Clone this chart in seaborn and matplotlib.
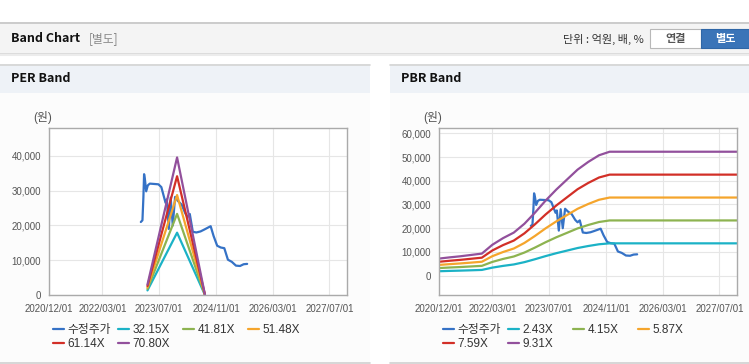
import pandas as pd
import matplotlib.pyplot as plt
import seaborn as sns
from matplotlib.patches import Rectangle
from matplotlib.ticker import StrMethodFormatter

# 수정주가
price_dates = ["2023-01-25", "2023-02-08", "2023-02-16", "2023-02-22", "2023-03-02",
               "2023-03-12", "2023-03-26", "2023-04-12", "2023-05-20", "2023-06-25",
               "2023-07-20", "2023-08-05", "2023-08-25", "2023-09-05", "2023-09-22",
               "2023-10-08", "2023-10-26", "2023-11-15", "2023-12-10", "2024-01-10",
               "2024-02-10", "2024-03-01", "2024-03-20", "2024-04-15", "2024-05-15",
               "2024-06-20", "2024-07-20", "2024-09-15", "2024-10-10", "2024-11-10",
               "2024-12-10", "2025-01-10", "2025-02-10", "2025-03-15", "2025-04-20",
               "2025-05-25", "2025-06-25", "2025-07-25"]
price_values = [21000, 21500, 28000, 34700, 33000,
                29800, 31500, 32000, 31900, 31800,
                31000, 29000, 26500, 27500, 19000,
                28000, 20000, 28200, 27000, 26000,
                23500, 22500, 23300, 18200, 18000,
                18300, 18800, 19800, 17000, 14200,
                13700, 13500, 10200, 9600, 8500,
                8400, 8900, 9000]

# PER 밴드
per_dates = ["2023-03-23", "2023-12-02", "2024-07-28"]
per_labels = ["32.15X", "41.81X", "51.48X", "61.14X", "70.80X"]
per_3215 = [1400, 17940, 100]
per_4181 = [1820, 23330, 130]
per_5148 = [2240, 28730, 150]
per_6114 = [2660, 34120, 180]
per_7080 = [3080, 39510, 210]

# PBR 밴드
pbr_dates = ["2020-12-01", "2021-03-01", "2021-06-01", "2021-09-01", "2021-12-01",
             "2022-03-01", "2022-06-01", "2022-09-01", "2022-12-01", "2023-03-01",
             "2023-06-01", "2023-09-01", "2023-12-01", "2024-03-01", "2024-06-01",
             "2024-09-01", "2024-12-01", "2027-12-01"]
pbr_labels = ["2.43X", "4.15X", "5.87X", "7.59X", "9.31X"]
pbr_243 = [1880, 2020, 2140, 2280, 2430, 3400, 4130, 4740, 5710, 6930,
           8260, 9480, 10570, 11660, 12510, 13240, 13630, 13630]
pbr_415 = [3220, 3450, 3650, 3900, 4150, 5810, 7060, 8090, 9750, 11830,
           14110, 16190, 18050, 19920, 21370, 22620, 23280, 23280]
pbr_587 = [4550, 4870, 5170, 5520, 5870, 8220, 9980, 11450, 13800, 16730,
           19960, 22890, 25540, 28180, 30230, 31990, 32930, 32930]
pbr_759 = [5880, 6300, 6680, 7140, 7590, 10630, 12900, 14800, 17840, 21630,
           25810, 29600, 33020, 36430, 39090, 41370, 42580, 42580]
pbr_931 = [7220, 7730, 8190, 8750, 9310, 13030, 15830, 18160, 21880, 26530,
           31650, 36310, 40500, 44690, 47950, 50740, 52230, 52230]

x_ticks = ["2020-12-01", "2022-03-01", "2023-07-01", "2024-11-01", "2026-03-01", "2027-07-01"]
x_tick_labels = ["2020/12/01", "2022/03/01", "2023/07/01", "2024/11/01", "2026/03/01", "2027/07/01"]

colors = ["#3572c6", "#1bb2c6", "#8db350", "#f5a52c", "#d22f27", "#92509c"]

W, H = 749, 364

sns.set_style("whitegrid")
plt.rcParams['font.family'] = ['Liberation Sans', 'Noto Sans CJK KR', 'DejaVu Sans']

fig = plt.figure(figsize=(W / 100, H / 100), dpi=100)
fig.patch.set_facecolor("white")


def rect(x0, y0, x1, y1, fc, ec="none", lw=0, z=0):
    fig.add_artist(Rectangle((x0 / W, 1 - y1 / H), (x1 - x0) / W, (y1 - y0) / H,
                             transform=fig.transFigure, facecolor=fc, edgecolor=ec,
                             linewidth=lw, zorder=z))


def hline(x0, x1, y, c, lw=1):
    fig.add_artist(plt.Line2D([x0 / W, x1 / W], [1 - y / H, 1 - y / H],
                              transform=fig.transFigure, color=c, lw=lw))


# 상단 헤더
rect(0, 22, 749, 53, "#f4f4f4")
hline(0, 749, 22.5, "#c4c4c4", 1.2)
hline(0, 749, 53.5, "#d6d6d6", 1.2)
hline(0, 749, 55, "#ececec", 1.5)
fig.text(11 / W, 1 - 39 / H, "Band Chart", fontsize=9, fontweight="bold",
         family=['Noto Sans CJK KR'], va="center", color="#111111")
fig.text(89 / W, 1 - 39 / H, "[별도]", fontsize=8.5, family=['Noto Sans CJK KR'],
         va="center", color="#888888")
fig.text(644 / W, 1 - 39 / H, "단위 : 억원, 배, %", fontsize=8, family=['Noto Sans CJK KR'],
         va="center", ha="right", color="#333333")
rect(650, 29, 701, 48, "white", "#b8b8b8", 0.8, 1)
rect(701, 29, 749, 48, "#3a74b8", "#2f66a6", 0.8, 1)
fig.text(675.5 / W, 1 - 38.5 / H, "연결", fontsize=8, fontweight="bold",
         family=['Noto Sans CJK KR'], va="center", ha="center", color="#555555", zorder=2)
fig.text(725 / W, 1 - 38.5 / H, "별도", fontsize=8, fontweight="bold",
         family=['Noto Sans CJK KR'], va="center", ha="center", color="white", zorder=2)

# 패널
for px0, px1, title in [(0, 370, "PER Band"), (390, 749, "PBR Band")]:
    rect(px0, 64, px1, 93, "#eef2f7")
    rect(px0, 93, px1, 363, "#fcfcfc")
    hline(px0, px1, 64.5, "#d4d4d4", 1.2)
    hline(px0, px1, 363, "#d0d0d0", 1.2)
    fig.text((px0 + 11) / W, 1 - 79 / H, title, fontsize=9, fontweight="bold",
             family=['Noto Sans CJK KR'], va="center", color="#111111")


def make_axes(x0, x1, y0, y1):
    ax = fig.add_axes([x0 / W, 1 - y1 / H, (x1 - x0) / W, (y1 - y0) / H])
    ax.set_facecolor("white")
    for s in ax.spines.values():
        s.set_color("#aaaaaa")
        s.set_linewidth(1)
    ax.grid(True, color="#e6e6e6", lw=0.8)
    ax.tick_params(length=4, color="#aaaaaa", labelsize=7, labelcolor="#555555", pad=2)
    ax.set_xticks(pd.to_datetime(x_ticks))
    ax.set_xticklabels(x_tick_labels)
    ax.set_xlim(pd.Timestamp("2020-12-01"), pd.Timestamp("2027-12-01"))
    ax.yaxis.set_major_formatter(StrMethodFormatter("{x:,.0f}"))
    return ax


def draw(ax, dates, values, color, label):
    sns.lineplot(x=pd.to_datetime(dates), y=values, ax=ax, color=color, lw=1.6,
                 label=label, legend=False)


def legend_row(ax, x_start, names):
    handles, labels = ax.get_legend_handles_labels()
    lookup = dict(zip(labels, handles))
    for i, name in enumerate(names):
        x = x_start + 65 * (i % 4)
        y = 330 + 14.3 * (i // 4)
        fig.legend(handles=[lookup[name]], labels=[name], loc="center left",
                   bbox_to_anchor=(x / W, 1 - y / H), frameon=False, handlelength=0.9,
                   handletextpad=0.3, borderpad=0, borderaxespad=0, fontsize=8.5,
                   labelcolor="#333333")


# PER Band
ax1 = make_axes(49.3, 347.3, 128.3, 295.3)
draw(ax1, price_dates, price_values, colors[0], "수정주가")
for vals, lab, c in zip([per_3215, per_4181, per_5148, per_6114, per_7080], per_labels, colors[1:]):
    draw(ax1, per_dates, vals, c, lab)
ax1.set_ylim(0, 47850)
ax1.set_yticks([0, 10000, 20000, 30000, 40000])
ax1.set_xlabel("")
ax1.set_ylabel("")
fig.text(43 / W, 1 - 118 / H, "(원)", fontsize=8.5, ha="center", va="center", color="#555555")
legend_row(ax1, 53.3, ["수정주가"] + per_labels)

# PBR Band
ax2 = make_axes(439.3, 737.3, 128.3, 295.3)
draw(ax2, price_dates, price_values, colors[0], "수정주가")
for vals, lab, c in zip([pbr_243, pbr_415, pbr_587, pbr_759, pbr_931], pbr_labels, colors[1:]):
    draw(ax2, pbr_dates, vals, c, lab)
ax2.set_ylim(-8260, 62100)
ax2.set_yticks([0, 10000, 20000, 30000, 40000, 50000, 60000])
ax2.set_xlabel("")
ax2.set_ylabel("")
fig.text(433 / W, 1 - 118 / H, "(원)", fontsize=8.5, ha="center", va="center", color="#555555")
legend_row(ax2, 443.3, ["수정주가"] + pbr_labels)

fig.savefig("out.png", dpi=100)
